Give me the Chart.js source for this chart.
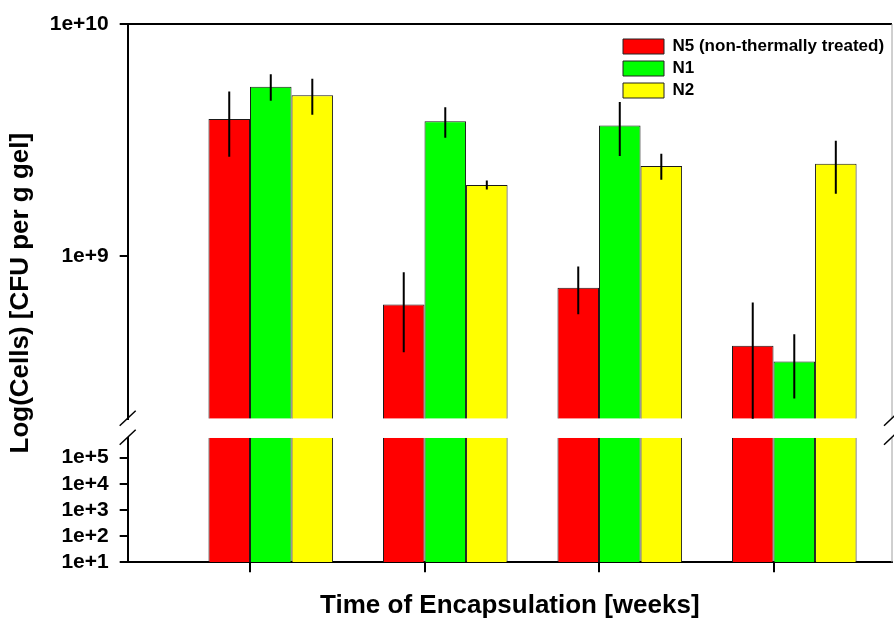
<!DOCTYPE html>
<html>
<head>
<meta charset="utf-8">
<script src="https://cdn.jsdelivr.net/npm/chart.js@4.4.0/dist/chart.umd.min.js"></script>
<style>
  html, body { margin: 0; padding: 0; background: #fff; }
</style>
</head>
<body>
<canvas id="cellsChart" width="894" height="619"></canvas>
<script>
// x positions of the four sampling times (no tick labels in the original)
const weeks = [0, 1, 2, 3];
const seriesNames = ['N5 (non-thermally treated)', 'N1', 'N2'];
const n5Cells = [3.9e9, 6.2e8, 7.33e8, 4.12e8];
const n1Cells = [5.37e9, 3.81e9, 3.66e9, 3.53e8];
const n2Cells = [4.94e9, 2.03e9, 2.45e9, 2.5e9];
const n5Err = [1.22e9, 2.34e8, 1.7e8, 2.2e8];
const n1Err = [0.7e9, 0.575e9, 0.96e9, 1.085e8];
const n2Err = [0.87e9, 0.09e9, 0.315e9, 0.64e9];
// broken axis: upper and lower log segments
const upperRange = [2e8, 1e10];
const lowerRange = [1e1, 5.8e5];
const upperTicks = [1e9, 1e10];
const upperTickLabels = ['1e+9', '1e+10'];
const lowerTicks = [1e1, 1e2, 1e3, 1e4, 1e5];
const lowerTickLabels = ['1e+1', '1e+2', '1e+3', '1e+4', '1e+5'];

const colors = ['#ff0000', '#00ff00', '#ffff00'];
const cellSeries = [n5Cells, n1Cells, n2Cells];
const errSeries = [n5Err, n1Err, n2Err];

// visible axis range; the bar groups sit half a bar to the right of each tick
const xRange = [-0.701, 3.679];
const groupShift = 0.119;

Chart.defaults.font.family = "'Liberation Sans', Arial, sans-serif";
Chart.defaults.color = '#000';

const upperSets = cellSeries.map((vals, i) => ({
    label: seriesNames[i],
    data: weeks.map((w, j) => ({ x: w, y: vals[j] })),
    xAxisID: 'xBars',
    yAxisID: 'yUpper',
    stack: 's' + i,
    backgroundColor: colors[i],
    borderColor: '#1a1a1a',
    borderWidth: { top: 1, left: 1, right: 1, bottom: 0 },
    borderSkipped: false
}));

// lower segment: every bar runs past the top of this segment
const lowerSets = cellSeries.map((vals, i) => ({
    label: seriesNames[i] + ' low',
    data: weeks.map((w, j) => ({ x: w, y: Math.min(vals[j], lowerRange[1]) })),
    xAxisID: 'xBars',
    yAxisID: 'yLower',
    stack: 's' + i,
    backgroundColor: colors[i],
    borderColor: '#1a1a1a',
    borderWidth: { top: 0, left: 1, right: 1, bottom: 0 },
    borderSkipped: false
}));

const errorBars = {
    id: 'errorBars',
    afterDatasetsDraw(chart) {
        const { ctx } = chart;
        const ys = chart.scales.yUpper;
        ctx.save();
        ctx.beginPath();
        ctx.rect(chart.chartArea.left, ys.top, chart.chartArea.width, ys.bottom - ys.top);
        ctx.clip();
        ctx.strokeStyle = '#000';
        ctx.lineWidth = 2;
        cellSeries.forEach((vals, i) => {
            const meta = chart.getDatasetMeta(i);
            meta.data.forEach((bar, j) => {
                const hi = ys.getPixelForValue(vals[j] + errSeries[i][j]);
                const lo = ys.getPixelForValue(Math.max(vals[j] - errSeries[i][j], 1));
                ctx.beginPath();
                ctx.moveTo(bar.x, hi);
                ctx.lineTo(bar.x, lo);
                ctx.stroke();
            });
        });
        ctx.restore();
    }
};

const frameDecor = {
    id: 'frameDecor',
    afterLayout(chart) {
        // park the legend in the top right corner of the plot
        const lg = chart.legend;
        const ca = chart.chartArea;
        lg.left = ca.right - 274;
        lg.right = chart.width;
        lg.top = ca.top + 9;
        lg.bottom = lg.top + 80;
    },
    afterDraw(chart) {
        const { ctx, chartArea } = chart;
        const up = chart.scales.yUpper, lo = chart.scales.yLower;
        const line = (x1, y1, x2, y2) => {
            ctx.beginPath(); ctx.moveTo(x1, y1); ctx.lineTo(x2, y2); ctx.stroke();
        };
        ctx.save();
        ctx.strokeStyle = '#000';
        ctx.lineWidth = 2;
        line(chartArea.left - 1, up.top, chartArea.right, up.top);
        ctx.strokeStyle = '#a0a0a0';
        ctx.lineWidth = 1;
        line(chartArea.right, up.top, chartArea.right, up.bottom);
        line(chartArea.right, lo.top, chartArea.right, lo.bottom);
        ctx.strokeStyle = '#000';
        ctx.lineWidth = 1.5;
        [chartArea.left, chartArea.right].forEach(x => {
            [up.bottom, lo.top].forEach(y => line(x - 8, y + 7, x + 8, y - 8));
        });
        ctx.restore();
    }
};

const tickFont = { size: 21, weight: 'bold' };

new Chart(document.getElementById('cellsChart'), {
    type: 'bar',
    data: { datasets: [...upperSets, ...lowerSets] },
    options: {
        responsive: false,
        animation: false,
        devicePixelRatio: 1,
        categoryPercentage: 0.714,
        barPercentage: 1,
        layout: { padding: { top: 24, right: 2, bottom: 0, left: 0 } },
        plugins: {
            tooltip: { enabled: false },
            legend: {
                position: 'chartArea',
                align: 'start',
                onClick: null,
                labels: {
                    boxWidth: 41,
                    boxHeight: 15,
                    padding: 5,
                    color: '#000',
                    font: { size: 17, weight: 'bold' },
                    generateLabels: () => seriesNames.map((name, i) => ({
                        text: name,
                        fillStyle: colors[i],
                        strokeStyle: '#222',
                        lineWidth: 1,
                        hidden: false,
                        datasetIndex: i
                    }))
                }
            }
        },
        scales: {
            x: {
                type: 'linear',
                min: xRange[0],
                max: xRange[1],
                offset: false,
                afterBuildTicks: s => { s.ticks = weeks.map(v => ({ value: v })); },
                ticks: { display: false },
                grid: { drawOnChartArea: false, offset: false, tickLength: 10, color: '#000', lineWidth: 2 },
                border: { color: '#000', width: 2 },
                title: {
                    display: true,
                    text: 'Time of Encapsulation [weeks]',
                    font: { size: 26, weight: 'bold', lineHeight: 1 },
                    padding: { top: 20.7, bottom: 0 }
                }
            },
            xBars: {
                type: 'linear',
                display: false,
                min: xRange[0] - groupShift,
                max: xRange[1] - groupShift,
                offset: false,
                afterBuildTicks: s => { s.ticks = weeks.map(v => ({ value: v })); }
            },
            yTitle: {
                type: 'linear',
                position: 'left',
                weight: 10,
                grid: { display: false, drawTicks: false, tickLength: 0 },
                border: { display: false },
                ticks: { display: false },
                title: {
                    display: true,
                    text: 'Log(Cells) [CFU per g gel]',
                    font: { size: 26, weight: 'bold', lineHeight: 1.2 },
                    padding: { top: 5, bottom: 2.5 }
                }
            },
            yUpper: {
                type: 'logarithmic',
                position: 'left',
                stack: 'cells',
                stackWeight: 394.7,
                weight: 3,
                stacked: false,
                min: upperRange[0],
                max: upperRange[1],
                afterBuildTicks: s => { s.ticks = upperTicks.map(v => ({ value: v })); },
                ticks: { autoSkip: false, padding: 11, font: tickFont, callback: (v, i) => upperTickLabels[i] },
                grid: { drawOnChartArea: false, tickLength: 8, color: '#000', lineWidth: 2 },
                border: { color: '#000', width: 2 }
            },
            yGap: {
                type: 'linear',
                position: 'left',
                stack: 'cells',
                stackWeight: 19,
                weight: 2,
                grid: { display: false, drawTicks: false, tickLength: 0 },
                border: { display: false },
                ticks: { display: false }
            },
            yLower: {
                type: 'logarithmic',
                position: 'left',
                stack: 'cells',
                stackWeight: 124.6,
                weight: 1,
                stacked: false,
                min: lowerRange[0],
                max: lowerRange[1],
                afterBuildTicks: s => { s.ticks = lowerTicks.map(v => ({ value: v })); },
                ticks: { autoSkip: false, padding: 11, font: tickFont, callback: (v, i) => lowerTickLabels[i] },
                grid: { drawOnChartArea: false, tickLength: 8, color: '#000', lineWidth: 2 },
                border: { color: '#000', width: 2 }
            }
        }
    },
    plugins: [errorBars, frameDecor]
});
</script>
</body>
</html>
